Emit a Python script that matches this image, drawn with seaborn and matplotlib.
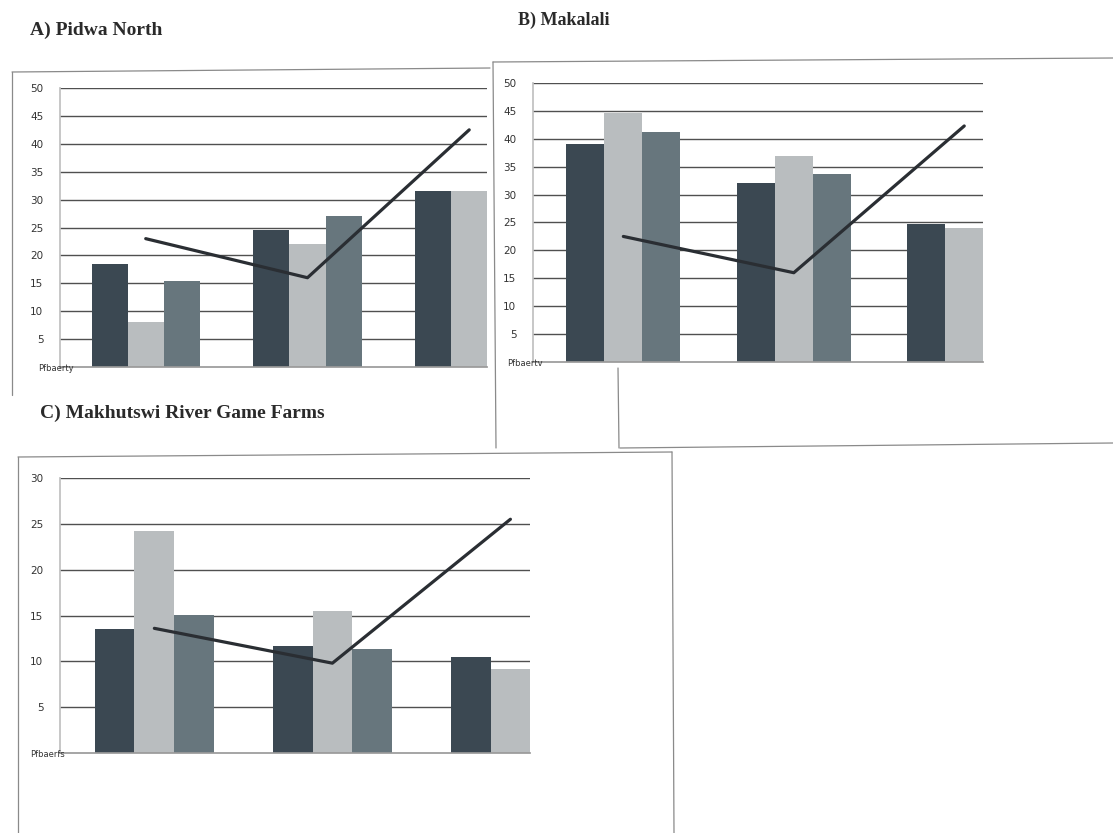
import numpy as np
import pandas as pd
import matplotlib
matplotlib.use("Agg")
import matplotlib.pyplot as plt
import seaborn as sns
from matplotlib.lines import Line2D

# ---------------- data ----------------
groups = ["G1", "G2", "G3"]
series = ["S1", "S2", "S3"]

pidwa_s1 = [18.5, 24.5, 31.5]
pidwa_s2 = [8.0, 22.0, 31.5]
pidwa_s3 = [15.5, 27.0, np.nan]
pidwa_line = [23.0, 16.0, 42.5]

makalali_s1 = [39.0, 32.0, 24.8]
makalali_s2 = [44.6, 37.0, 24.0]
makalali_s3 = [41.2, 33.7, np.nan]
makalali_line = [22.5, 16.0, 42.3]

makhutswi_s1 = [13.5, 11.7, 10.5]
makhutswi_s2 = [24.2, 15.5, 9.2]
makhutswi_s3 = [15.1, 11.3, np.nan]
makhutswi_line = [13.6, 9.8, 25.5]

titles = ["A) Pidwa North", "B) Makalali", "C) Makhutswi River Game Farms"]
corner_labels = ["Pfbaerty", "Pfbaertv", "Pfbaerfs"]
yticks_ab = [5, 10, 15, 20, 25, 30, 35, 40, 45, 50]
yticks_c = [5, 10, 15, 20, 25, 30]

bar_colors = ["#3b4852", "#b9bdbf", "#67767d"]
line_color = "#2a2e33"


def long_df(s1, s2, s3):
    rows = []
    for name, vals in zip(series, [s1, s2, s3]):
        for g, v in zip(groups, vals):
            rows.append({"group": g, "series": name, "value": v})
    return pd.DataFrame(rows)


sns.set_theme(style="white")
plt.rcParams["font.family"] = ["DejaVu Sans"]

fig = plt.figure(figsize=(11.13, 8.33), dpi=100)
W, H = 1113.0, 833.0


def px_rect(left, top, right, bottom):
    return [left / W, 1 - bottom / H, (right - left) / W, (bottom - top) / H]


def fline(x0, y0, x1, y1, color="#8a8a8a", lw=0.9):
    fig.add_artist(Line2D([x0 / W, x1 / W], [1 - y0 / H, 1 - y1 / H],
                          transform=fig.transFigure, color=color, lw=lw))


panels = [
    dict(rect=px_rect(60, 88, 487, 367), data=(pidwa_s1, pidwa_s2, pidwa_s3),
         line=pidwa_line, ymax=50, yticks=yticks_ab, corner=corner_labels[0], cx=-0.052),
    dict(rect=px_rect(533, 83, 983, 362), data=(makalali_s1, makalali_s2, makalali_s3),
         line=makalali_line, ymax=50, yticks=yticks_ab, corner=corner_labels[1], cx=-0.058),
    dict(rect=px_rect(60, 478, 530, 753), data=(makhutswi_s1, makhutswi_s2, makhutswi_s3),
         line=makhutswi_line, ymax=30, yticks=yticks_c, corner=corner_labels[2], cx=-0.064),
]

for p in panels:
    ax = fig.add_axes(p["rect"])
    df = long_df(*p["data"])
    sns.barplot(data=df, x="group", y="value", hue="series", order=groups,
                hue_order=series, palette=bar_colors, width=0.67, gap=0,
                saturation=1, errorbar=None, legend=False, ax=ax,
                linewidth=0, edgecolor="none")
    sns.lineplot(x=[0, 1, 2], y=p["line"], color=line_color, lw=2.3, ax=ax)
    ax.set_xlim(-0.53, 2.11)
    ax.set_ylim(0, p["ymax"])
    ax.set_yticks(p["yticks"])
    ax.set_xticks([0.5, 1.5])
    ax.set_xticklabels([])
    ax.tick_params(axis="x", length=3, color="#aaaaaa", direction="out")
    ax.tick_params(axis="y", length=4, color="#bbbbbb", labelsize=7.5,
                   labelcolor="#333333", pad=8)
    ax.set_xlabel("")
    ax.set_ylabel("")
    ax.yaxis.grid(True, color="#505050", lw=1.0)
    ax.set_axisbelow(True)
    for s in ["top", "right"]:
        ax.spines[s].set_visible(False)
    ax.spines["left"].set_color("#c0c0c0")
    ax.spines["bottom"].set_color("#9a9a9a")
    ax.set_facecolor("none")
    ax.text(p["cx"], -0.005, p["corner"], transform=ax.transAxes,
            ha="left", va="center", fontsize=6, color="#333333")

# panel titles
serif = ["Liberation Serif", "DejaVu Serif"]
fig.text(30 / W, 1 - 30 / H, titles[0], family=serif, fontsize=14,
         fontweight="bold", ha="left", va="center", color="#2a2a2a")
fig.text(518 / W, 1 - 20 / H, titles[1], family=serif, fontsize=13,
         fontweight="bold", ha="left", va="center", color="#2a2a2a")
fig.text(40 / W, 1 - 413 / H, titles[2], family=serif, fontsize=14,
         fontweight="bold", ha="left", va="center", color="#2a2a2a")

# panel frames (scanned chart borders)
fline(12, 72, 490, 68)
fline(12, 72, 12, 395)
fline(493, 62, 496, 448)
fline(493, 62, 1113, 58)
fline(620, 448, 1113, 443)
fline(618, 368, 619, 448)
fline(18, 457, 672, 452)
fline(18, 457, 18, 833)
fline(672, 452, 674, 833)

fig.savefig("out.png", dpi=100, facecolor="white")
